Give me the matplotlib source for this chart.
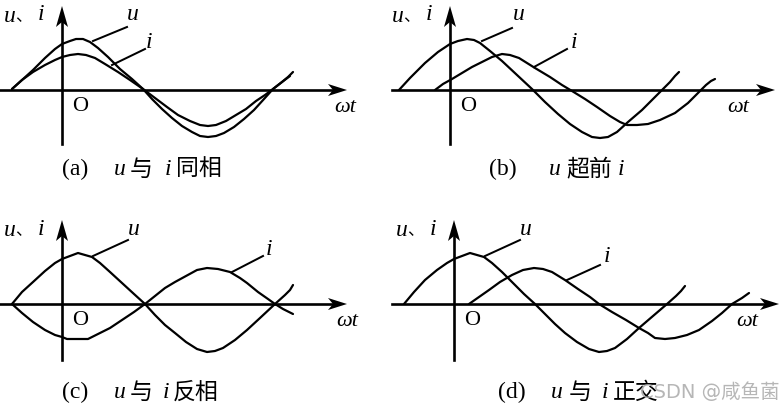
import matplotlib.pyplot as plt
from matplotlib.patches import Polygon

# pixel-space sketch of the four u/i phase diagrams
# curve vertices as (x, y) in image pixels, y downwards
u_a = [(12, 89), (22, 80), (33, 70), (45, 58), (55, 49), (62, 44), (70, 41), (76, 39), (83, 39),
       (90, 42), (98, 48), (108, 57), (120, 69), (132, 79), (143, 89), (152, 99), (162, 109),
       (172, 118), (182, 126), (192, 132), (200, 136), (208, 137), (216, 136), (224, 133),
       (234, 127), (244, 119), (254, 110), (264, 99), (273, 89), (282, 82), (288, 77), (293, 72)]
i_a = [(12, 89), (22, 80), (33, 72), (45, 65), (55, 60), (62, 57), (70, 55), (78, 54), (86, 55),
       (95, 58), (105, 64), (118, 72), (130, 80), (143, 89), (155, 98), (167, 107), (178, 115),
       (190, 121), (200, 125), (208, 126), (216, 125), (226, 121), (236, 115), (246, 109),
       (256, 101), (265, 95), (273, 89), (282, 82), (290, 76)]
u_b = [(399, 90), (410, 78), (425, 63), (438, 52), (450, 44), (458, 41), (467, 39), (474, 40),
       (480, 43), (490, 51), (502, 61), (517, 75), (532, 89), (545, 102), (558, 114), (570, 124),
       (582, 132), (592, 137), (600, 138), (608, 137), (617, 132), (628, 122), (642, 110),
       (652, 100), (662, 90), (670, 82), (675, 76), (679, 72)]
i_b = [(435, 90), (443, 84), (452, 79), (462, 73), (472, 67), (482, 62), (492, 57), (502, 54),
       (510, 55), (519, 58), (535, 68), (550, 77), (562, 85), (572, 91), (585, 99), (597, 107),
       (610, 116), (620, 122), (627, 125), (637, 125), (648, 124), (660, 120), (675, 113),
       (688, 103), (699, 92), (706, 85), (711, 81), (715, 79)]
u_c = [(12, 304), (22, 292), (33, 282), (45, 271), (55, 263), (62, 259), (70, 256), (78, 253),
       (85, 255), (92, 257), (100, 263), (110, 272), (122, 283), (134, 294), (145, 304),
       (155, 315), (165, 325), (175, 333), (186, 342), (197, 349), (207, 352), (215, 351),
       (223, 348), (235, 340), (247, 330), (260, 318), (275, 304), (285, 295), (290, 290), (293, 285)]
i_c = [(12, 304), (22, 313), (33, 322), (45, 330), (55, 335), (62, 337), (67, 339), (78, 339),
       (88, 339), (98, 334), (110, 328), (122, 320), (134, 312), (145, 304), (155, 296),
       (165, 288), (175, 282), (186, 276), (197, 270), (207, 268), (218, 269), (230, 272),
       (240, 278), (247, 283), (258, 292), (268, 299), (275, 304), (283, 309), (293, 314)]
u_d = [(404, 304), (414, 292), (425, 280), (437, 270), (447, 263), (454, 259), (462, 256),
       (470, 253), (477, 255), (484, 257), (492, 263), (502, 272), (513, 283), (524, 294),
       (535, 304), (545, 314), (555, 324), (565, 333), (577, 342), (589, 349), (599, 352),
       (607, 351), (615, 348), (627, 339), (639, 328), (653, 316), (667, 304), (676, 296),
       (681, 291), (685, 286)]
i_d = [(469, 304), (479, 297), (489, 290), (500, 282), (512, 275), (523, 270), (534, 268),
       (543, 269), (552, 272), (565, 280), (578, 289), (590, 297), (599, 304), (612, 312),
       (626, 320), (639, 328), (648, 333), (655, 338), (665, 339), (675, 338), (687, 335),
       (699, 330), (712, 321), (722, 313), (732, 304), (742, 298), (749, 293)]

curves = [u_a, i_a, u_b, i_b, u_c, i_c, u_d, i_d]

# leader lines from curve to its label
leaders = [((93, 41), (127, 27)), ((112, 65), (145, 49)),
           ((482, 41), (512, 28)), ((534, 67), (567, 49)),
           ((93, 256), (128, 240)), ((232, 272), (263, 256)),
           ((485, 256), (520, 240)), ((567, 280), (600, 265))]

# axes: (y-axis x, x-axis y, x start, x tip, y top, y bottom, ωt label x)
panels = [(62, 90, 0, 347, 6, 144, 345), (450, 90, 392, 775, 6, 144, 738),
          (62, 304, 0, 347, 220, 360, 347), (454, 304, 392, 779, 220, 360, 747)]

captions = [("(a)", "u", "与", "i", "同相"), ("(b)", "u", "超前", "i", ""),
            ("(c)", "u", "与", "i", "反相"), ("(d)", "u", "与", "i", "正交")]

fig = plt.figure(figsize=(7.84, 4.11), dpi=100)
ax = fig.add_axes([0, 0, 1, 1])
ax.set_xlim(0, 784)
ax.set_ylim(411, 0)
ax.axis('off')

LW = 1.6
SERIF = 'Liberation Serif'
CJK = 'Noto Sans CJK SC'
FS = 17

for pts in curves:
    xs, ys = zip(*pts)
    ax.plot(xs, ys, color='black', lw=LW, solid_joinstyle='round', solid_capstyle='round')

for (x0, y0), (x1, y1) in leaders:
    ax.plot([x0, x1], [y0, y1], color='black', lw=LW * 0.9)


def arrow_head(tip, direction):
    tx, ty = tip
    if direction == 'right':
        pts = [(tx, ty), (tx - 19, ty - 6), (tx - 14, ty), (tx - 19, ty + 6)]
    else:
        pts = [(tx, ty), (tx - 6, ty + 21), (tx, ty + 16), (tx + 6, ty + 21)]
    ax.add_patch(Polygon(pts, closed=True, color='black', lw=0))


for yx, xy, xs, xt, yt, yb, wx in panels:
    ax.plot([xs, xt - 10], [xy, xy], color='black', lw=LW + 0.3)
    ax.plot([yx, yx], [yb, yt + 10], color='black', lw=LW + 0.3)
    arrow_head((xt, xy), 'right')
    arrow_head((yx, yt), 'up')
    # axis labels
    ax.text(yx + 18, xy + 16, "O", family=SERIF, fontsize=16, ha='center', va='center')
    ax.text(wx, xy + 17, "ωt", family=SERIF, style='italic', fontsize=16,
            ha='center', va='center')
    ax.text(yx - 58, yt + 10, "u", family=SERIF, style='italic', fontsize=FS, ha='left', va='center')
    ax.text(yx - 47, yt + 11, "、", family=CJK, fontsize=12, ha='left', va='center')
    ax.text(yx - 24, yt + 9, "i", family=SERIF, style='italic', fontsize=FS, ha='left', va='center')

# curve labels
label_pos = [("u", 127, 14), ("i", 146, 43), ("u", 513, 14), ("i", 571, 43),
             ("u", 128, 229), ("i", 266, 249), ("u", 520, 229), ("i", 604, 256)]
for s, x, y in label_pos:
    ax.text(x, y, s, family=SERIF, style='italic', fontsize=FS, ha='left', va='center')

# captions, pieces placed at measured x positions
cap_x = [(62, 114, 130, 165, 176), (489, 549, 566, 618, 0),
         (62, 114, 130, 163, 173), (498, 551, 569, 602, 613)]
cap_y = [169, 169, 392, 392]
for (lab, u, mid, i, tail), xs, y in zip(captions, cap_x, cap_y):
    ax.text(xs[0], y, lab, family=SERIF, fontsize=FS, ha='left', va='center')
    ax.text(xs[1], y, u, family=SERIF, style='italic', fontsize=FS, ha='left', va='center')
    ax.text(xs[2], y, mid, family=CJK, fontsize=FS - 0.5, ha='left', va='center')
    ax.text(xs[3], y, i, family=SERIF, style='italic', fontsize=FS, ha='left', va='center')
    if tail:
        ax.text(xs[4], y, tail, family=CJK, fontsize=FS - 0.5, ha='left', va='center')

ax.text(640, 392, "CSDN @咸鱼菌", family=['DejaVu Sans', CJK], fontsize=14,
        color='#aaaaaa', alpha=0.85, ha='left', va='center')

fig.savefig('out.png', dpi=100, facecolor='white')
